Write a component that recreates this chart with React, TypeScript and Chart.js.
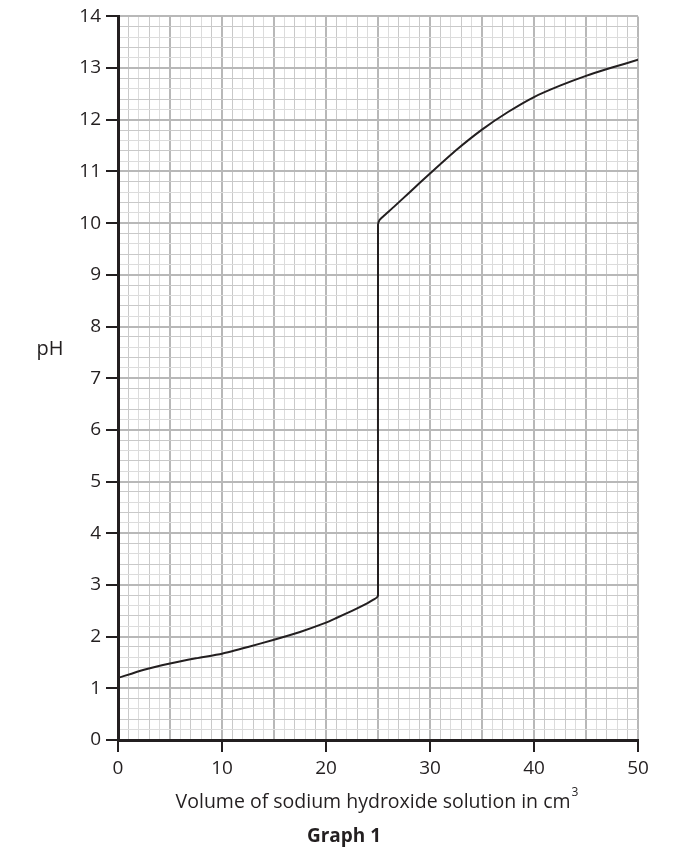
import React, { useEffect, useRef } from "react";
import { Chart, registerables } from "chart.js";

Chart.register(...registerables);

const volumes = [0, 2.5, 5, 7.5, 10, 12.5, 15, 17.5, 20, 21, 22.5, 24, 24.6, 24.9, 25, 25, 25.15, 25.5, 26.5, 28, 30, 32.5, 35, 37.5, 40, 42.5, 45, 47.5, 50];
const phValues = [1.2, 1.36, 1.48, 1.58, 1.67, 1.8, 1.94, 2.09, 2.27, 2.36, 2.5, 2.65, 2.72, 2.76, 2.8, 9.97, 10.06, 10.13, 10.31, 10.59, 10.96, 11.41, 11.81, 12.15, 12.44, 12.66, 12.85, 13.01, 13.16];

const xTickLabels = ["0", "10", "20", "30", "40", "50"];
const yTickLabels = ["0", "1", "2", "3", "4", "5", "6", "7", "8", "9", "10", "11", "12", "13", "14"];

const xTitle = "Volume of sodium hydroxide solution in cm";
const xTitleSup = "3";
const yTitle = "pH";
const caption = "Graph 1";

const INK = "#231f20";
const FONT = "'Open Sans', 'Noto Sans', sans-serif";

const isInt = (v: number) => Math.abs(v - Math.round(v)) < 1e-6;

export default function App() {
  const ref = useRef<HTMLCanvasElement | null>(null);

  useEffect(() => {
    document.body.style.margin = "0";
    const canvas = ref.current;
    if (!canvas) return;

    const textPlugin = {
      id: "texts",
      afterDraw(chart: any) {
        const ctx = chart.ctx;
        ctx.save();
        ctx.fillStyle = INK;
        ctx.textBaseline = "middle";
        ctx.textAlign = "center";
        ctx.font = `20px ${FONT}`;
        ctx.fillText(yTitle, 50, 349);

        ctx.font = `19.5px ${FONT}`;
        const w = ctx.measureText(xTitle).width;
        ctx.font = `12px ${FONT}`;
        const ws = ctx.measureText(xTitleSup).width;
        const cx = 377;
        const start = cx - (w + ws + 1) / 2;
        ctx.textAlign = "left";
        ctx.font = `19.5px ${FONT}`;
        ctx.fillText(xTitle, start, 802);
        ctx.font = `12px ${FONT}`;
        ctx.fillText(xTitleSup, start + w + 1, 793);

        ctx.textAlign = "center";
        ctx.font = `bold 19px ${FONT}`;
        ctx.fillText(caption, 344, 837);
        ctx.restore();
      },
    };

    const chart = new Chart(canvas, {
      type: "line",
      data: {
        labels: volumes,
        datasets: [
          {
            data: volumes.map((x, i) => ({ x, y: phValues[i] })),
            borderColor: INK,
            borderWidth: 2,
            pointRadius: 0,
            fill: false,
            tension: 0.2,
          },
        ],
      },
      options: {
        animation: false,
        responsive: true,
        maintainAspectRatio: false,
        layout: { padding: { left: 0, right: 50, top: 12, bottom: 0 } },
        plugins: {
          legend: { display: false },
          tooltip: { enabled: false },
        },
        scales: {
          x: {
            type: "linear",
            min: 0,
            max: 50,
            afterFit: (s: any) => {
              s.height = 115;
            },
            ticks: {
              stepSize: 1,
              autoSkip: false,
              maxRotation: 0,
              padding: 5,
              color: INK,
              font: { size: 19, family: FONT },
              callback: (v: any) => {
                const n = Number(v);
                if (!isInt(n / 10)) return "";
                const s = String(Math.round(n));
                return xTickLabels.includes(s) ? s : "";
              },
            },
            grid: {
              drawOnChartArea: true,
              drawTicks: true,
              tickLength: 12,
              tickWidth: 2,
              color: (c: any) => {
                const v = c.tick ? c.tick.value : 0;
                if (isInt(v / 5)) return "#b8b8b8";
                return Math.round(v) % 2 === 1 ? "#c9c9c9" : "#dcdcdc";
              },
              lineWidth: (c: any) => {
                const v = c.tick ? c.tick.value : 0;
                return isInt(v / 5) ? 2 : 1;
              },
              tickColor: (c: any) => {
                const v = c.tick ? c.tick.value : 0;
                return isInt(v / 10) ? INK : "rgba(0,0,0,0)";
              },
            },
            border: { color: INK, width: 3 },
          },
          y: {
            type: "linear",
            min: 0,
            max: 14,
            afterFit: (s: any) => {
              s.width = 118;
            },
            ticks: {
              stepSize: 0.2,
              autoSkip: false,
              padding: 5,
              color: INK,
              font: { size: 19, family: FONT },
              callback: (v: any) => {
                const n = Number(v);
                if (!isInt(n)) return "";
                const s = String(Math.round(n));
                return yTickLabels.includes(s) ? s : "";
              },
            },
            grid: {
              drawOnChartArea: true,
              drawTicks: true,
              tickLength: 12,
              tickWidth: 2,
              color: (c: any) => {
                const v = c.tick ? c.tick.value : 0;
                if (isInt(v)) return "#b8b8b8";
                const k = Math.round(v * 5) % 5;
                return k % 2 === 1 ? "#dcdcdc" : "#c9c9c9";
              },
              lineWidth: (c: any) => {
                const v = c.tick ? c.tick.value : 0;
                return isInt(v) ? 2 : 1;
              },
              tickColor: (c: any) => {
                const v = c.tick ? c.tick.value : 0;
                return isInt(v) ? INK : "rgba(0,0,0,0)";
              },
            },
            border: { color: INK, width: 3 },
          },
        },
      },
      plugins: [textPlugin],
    });

    return () => chart.destroy();
  }, []);

  return (
    <div style={{ position: "absolute", left: 0, top: 0, width: 688, height: 855, background: "#fff" }}>
      <canvas ref={ref} />
    </div>
  );
}
